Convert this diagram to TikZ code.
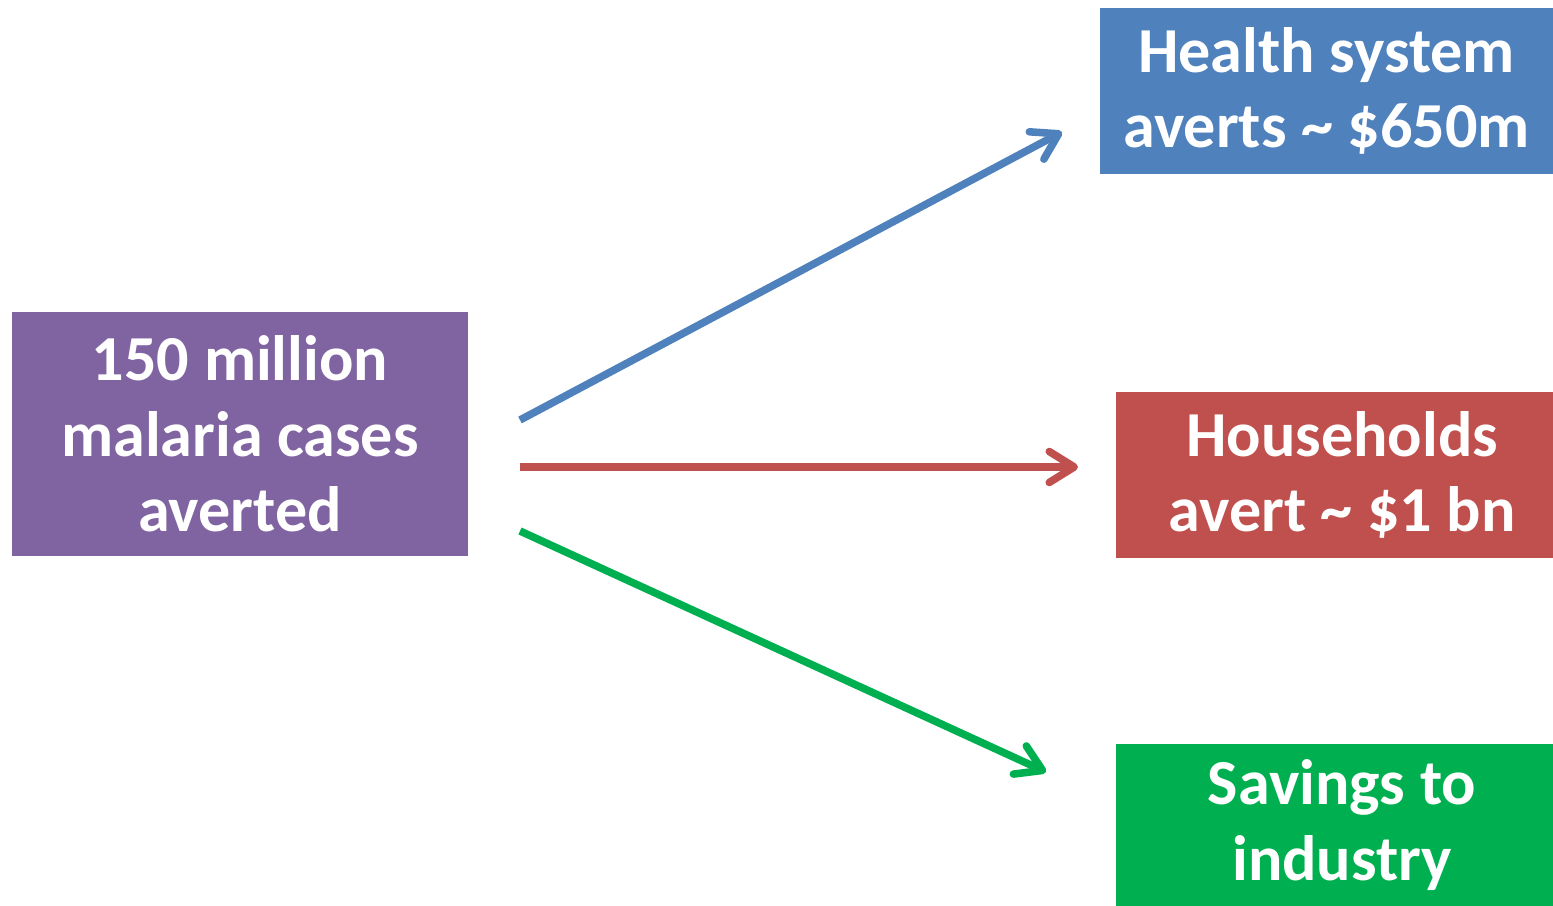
\documentclass[tikz,border=0pt]{standalone}
\usepackage{fontspec}
\setmainfont{Carlito}
\usetikzlibrary{arrows.meta}
\definecolor{boxpurple}{HTML}{8064A2}
\definecolor{boxblue}{HTML}{4F81BD}
\definecolor{boxred}{HTML}{C0504D}
\definecolor{boxgreen}{HTML}{00B050}
\tikzset{
  box/.style={inner sep=0pt, align=center, text=white,
    font=\bfseries\fontsize{36.5}{43}\selectfont},
  flow/.style={line width=4.3pt,
    -{Straight Barb[length=0.5cm,width=0.62cm,round]}}
}
\begin{document}
\begin{tikzpicture}[x=0.02cm,y=-0.02cm]
  \useasboundingbox (0,0) rectangle (1553,906);
  % boxes
  \node[box,fill=boxpurple,minimum width=9.12cm,minimum height=4.88cm] at(240,434)(src){150 million\\malaria cases\\averted};
  \node[box,fill=boxblue,minimum width=9.06cm,minimum height=3.32cm] at(1326.5,91)(health){Health system\\averts \textasciitilde{} \$650m};
  \node[box,fill=boxred,minimum width=8.74cm,minimum height=3.32cm] at(1334.5,475)(house){\hspace{0.3cm}Households\\\hspace{0.3cm}avert \textasciitilde{} \$1 bn};
  \node[box,fill=boxgreen,minimum width=8.74cm,minimum height=3.24cm] at(1334.5,825)(industry){\hspace{0.3cm}Savings to\\\hspace{0.3cm}industry};
  % arrow ends
  \coordinate (s1) at(520,420);
  \coordinate (s2) at(520,467);
  \coordinate (s3) at(520,531);
  \coordinate (e1) at(1062,132);
  \coordinate (e2) at(1078,467);
  \coordinate (e3) at(1046,772);
  % arrows
  \draw[flow,boxblue] (s1) -- (e1);
  \draw[flow,boxred] (s2) -- (e2);
  \draw[flow,boxgreen] (s3) -- (e3);
\end{tikzpicture}
\end{document}
